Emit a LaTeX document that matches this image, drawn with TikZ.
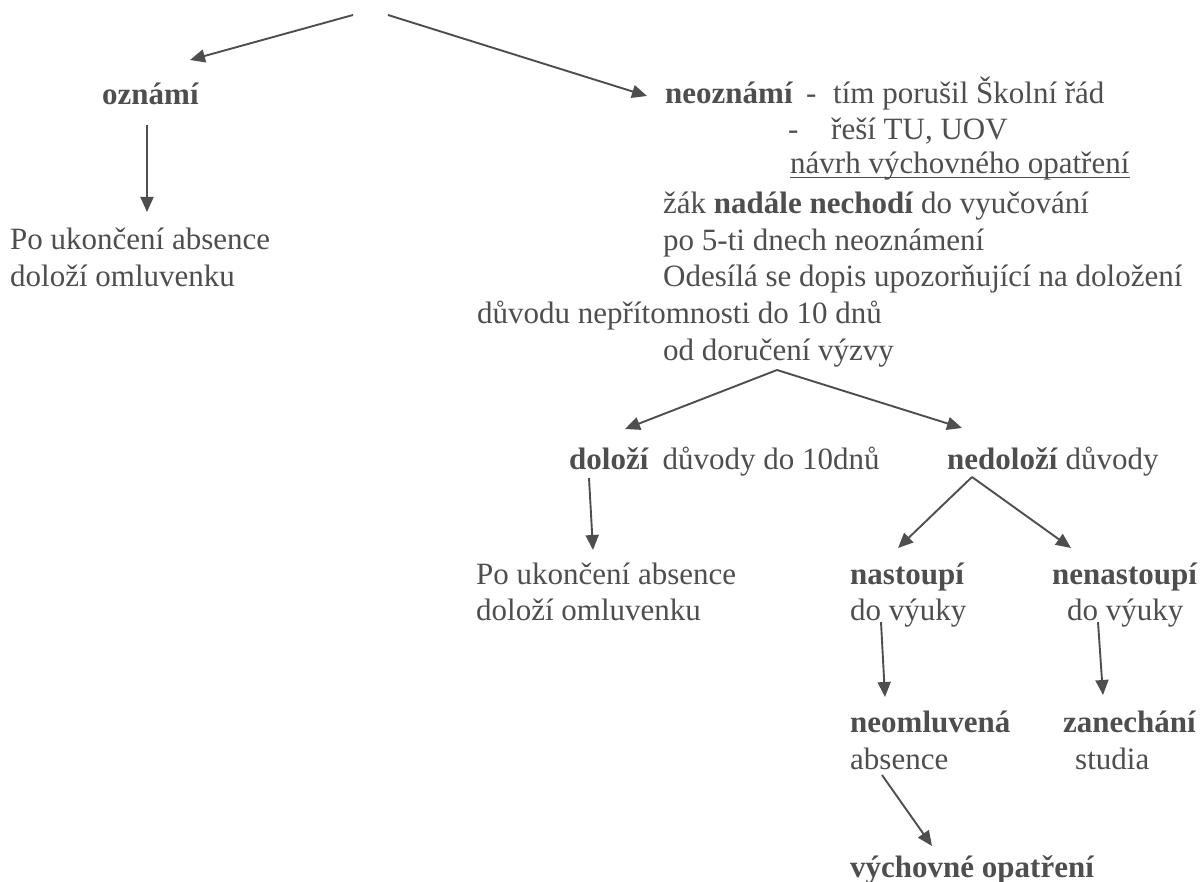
\documentclass[tikz,border=0pt]{standalone}
\usepackage{fontspec}
\setmainfont{Liberation Serif}
\usetikzlibrary{arrows.meta,calc}
\definecolor{ink}{RGB}{78,78,78}
\begin{document}
\begin{tikzpicture}[x=1pt,y=-1pt,
  txt/.style={anchor=base west,inner sep=0pt,text=ink,font=\fontsize{31}{37}\selectfont},
  arr/.style={draw=ink,line width=1.9pt,-{Triangle[length=15pt,width=13pt]}},
  uline/.style={draw=ink,line width=1.4pt}]
\useasboundingbox (0,0) rectangle (1202,882);
% top level
\node[txt] (oznami) at (102,105) {\textbf{oznámí}};
\node[txt] (neozn) at (665,104) {\textbf{neoznámí}};
\node[txt] (dash1) at (806,104) {-};
\node[txt] (tim) at (833,104) {tím porušil Školní řád};
\node[txt] (dash2) at (788,140) {-};
\node[txt] (resi) at (831,140) {řeší TU, UOV};
\node[txt] (navrh) at (790,174) {návrh výchovného opatření};
\node[txt] (zak) at (663,214) {žák \textbf{nadále nechodí} do vyučování};
\node[txt] (po5) at (663,251) {po 5-ti dnech neoznámení};
\node[txt] (odes) at (663,287) {Odesílá se dopis upozorňující na doložení};
\node[txt] (duv) at (477,324) {důvodu nepřítomnosti do 10 dnů};
\node[txt] (odd) at (663,361) {od doručení výzvy};
% left column
\node[txt] (po1) at (10,250) {Po ukončení absence};
\node[txt] (po2) at (10,287) {doloží omluvenku};
% second level
\node[txt] (doloz) at (569,469) {\textbf{doloží}\hspace{6pt} důvody do 10dnů};
\node[txt] (nedoloz) at (947,469) {\textbf{nedoloží} důvody};
\node[txt] (po3) at (476,584) {Po ukončení absence};
\node[txt] (po4) at (476,620) {doloží omluvenku};
\node[txt] (nast) at (850,584) {\textbf{nastoupí}};
\node[txt] (dovy1) at (850,620) {do výuky};
\node[txt] (nenast) at (1052,584) {\textbf{nenastoupí}};
\node[txt] (dovy2) at (1067,620) {do výuky};
\node[txt] (neoml) at (850,732) {\textbf{neomluvená}};
\node[txt] (absn) at (850,769) {absence};
\node[txt] (zanech) at (1063,732) {\textbf{zanechání}};
\node[txt] (stud) at (1075,769) {studia};
\node[txt] (vych) at (850,877) {\textbf{výchovné opatření}};
% underline
\draw[uline] ([yshift=-3.5pt]navrh.base west) -- ([yshift=-3.5pt]navrh.base east);
% free start points of the top arrows
\coordinate (topL) at (353,15);
\coordinate (topR) at (388,15);
% arrows
\draw[arr] (topL) -- ($(oznami.base west)+(88,-45)$);
\draw[arr] (topR) -- ($(neozn.base west)+(-18,-8)$);
\draw[arr] ($(oznami.base west)+(45,20)$) -- ($(po1.base west)+(137,-38)$);
\coordinate (apex1) at ($(odd.base west)+(114,9)$);
\draw[arr] (apex1) -- ($(doloz.base west)+(56,-40)$);
\draw[arr] (apex1) -- ($(nedoloz.base west)+(15,-41)$);
\draw[arr] ($(doloz.base west)+(20,9)$) -- ($(po3.base west)+(117,-34)$);
\coordinate (apex2) at ($(nedoloz.base west)+(25,8)$);
\draw[arr] (apex2) -- ($(nast.base west)+(48,-36)$);
\draw[arr] (apex2) -- ($(nenast.base west)+(19,-36)$);
\draw[arr] ($(dovy1.base west)+(31,2)$) -- ($(neoml.base west)+(35,-35)$);
\draw[arr] ($(dovy2.base west)+(31,2)$) -- ($(zanech.base west)+(40,-37)$);
\draw[arr] ($(absn.base west)+(32,6)$) -- ($(vych.base west)+(82,-31)$);
\end{tikzpicture}
\end{document}
